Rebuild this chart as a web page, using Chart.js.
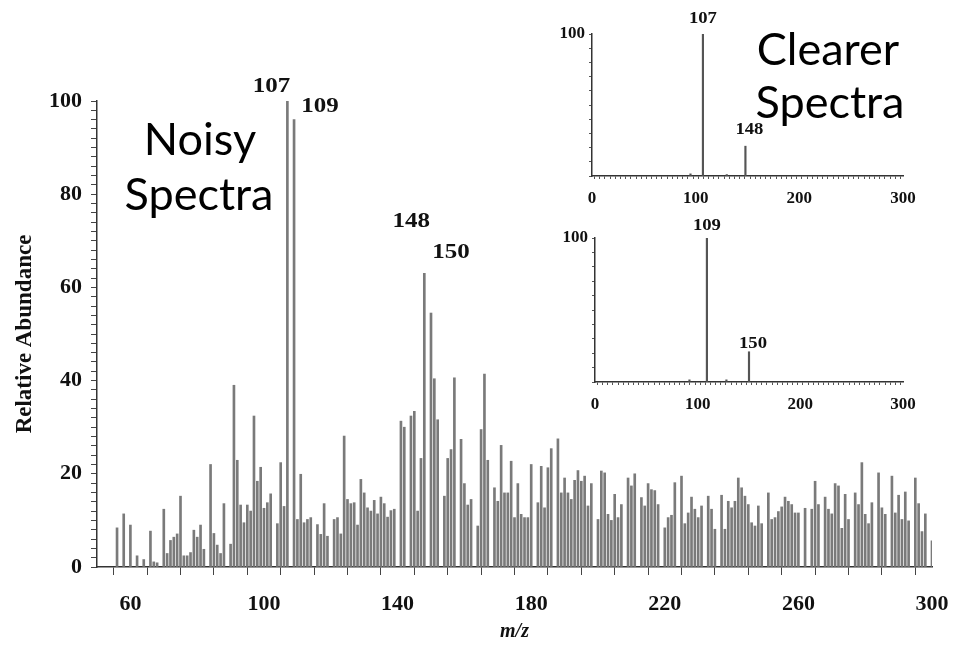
<!DOCTYPE html>
<html><head><meta charset="utf-8">
<script src="https://cdn.jsdelivr.net/npm/chart.js@4"></script>
<style>
html,body{margin:0;padding:0;background:#fff;width:956px;height:650px;overflow:hidden}
canvas{position:absolute}
#main{left:0;top:0}
#in1{left:540px;top:0}
#in2{left:540px;top:215px}
</style></head><body>
<canvas id="main" width="956" height="650"></canvas>
<canvas id="in1" width="400" height="215"></canvas>
<canvas id="in2" width="400" height="215"></canvas>
<script>
// ---- Noisy spectrum (main chart) ----
const mzValues = [56,58,60,62,64,66,67,68,70,71,72,73,74,75,76,77,78,79,80,81,82,84,85,86,87,88,90,91,92,93,94,95,96,97,98,99,100,101,102,104,105,106,107,109,110,111,112,113,114,116,117,118,119,121,122,123,124,125,126,127,128,129,130,131,132,133,134,135,136,137,138,139,141,142,144,145,146,147,148,150,151,152,154,155,156,157,159,160,161,162,164,165,166,167,169,170,171,172,173,174,175,176,177,178,179,180,182,183,184,185,186,188,189,190,191,192,193,194,195,196,197,198,200,201,202,203,204,205,206,207,209,210,211,213,214,215,216,217,218,220,221,222,223,225,226,227,228,229,230,231,233,234,235,237,238,239,240,241,242,243,244,245,246,247,248,249,251,252,253,254,255,256,257,258,259,260,262,264,265,266,268,269,270,271,272,273,274,275,277,278,279,280,281,282,284,285,286,288,289,290,291,292,293,295,296,297,298,300];
const abundance = [8.4,11.4,9,2.4,1.6,7.7,1.1,0.9,12.4,2.9,5.7,6.4,7.1,15.2,2.4,2.4,3.1,7.9,6.4,9,3.8,22,7.2,4.7,2.9,13.6,4.9,39,22.9,13.3,9.5,13.3,12,32.4,18.4,21.4,12.6,13.8,15.7,9.3,22.4,13,100,96,10.2,19.9,9.5,10.2,10.6,9.1,7,13.6,6.6,10.2,10.6,7.1,28.1,14.5,13.6,13.8,9,18.8,15.9,12.7,12,14.3,11.4,15,13.6,10.7,12.1,12.4,31.3,30,32.4,33.4,12,23.3,63,54.5,40.4,31.6,15.2,23.3,25.2,40.6,27.4,17.9,13.3,14.5,8.8,29.5,41.4,22.9,17,14.1,26.1,15.9,15.9,22.7,10.6,17.9,11.3,10.6,10.6,22,13.8,21.6,12.7,21.3,25.4,27.5,15.9,19.1,15.9,14.5,18.6,20.7,18.4,19.5,13.1,17.9,10.2,20.6,20.2,11.3,10,15.6,10.6,13.4,19.1,17.4,20,14.9,13.1,17.9,16.6,16.4,13.4,8.4,10.6,11.1,18.1,19.5,9.3,11.6,15,12.4,10.6,13.1,15.2,12.4,8.1,15.4,8.1,14.1,12.7,14.1,19.1,17,15.2,13.4,9.5,8.8,13.1,9.3,15.9,10.2,10.6,11.9,12.9,15,14.1,13.4,11.6,11.6,12.6,12.4,18.4,13.4,15,12.4,11.4,17.9,17.4,8.3,15.6,10.2,15.9,13.4,22.4,11.3,9.3,13.8,20.2,12.7,11.3,19.5,11.6,15.4,10.2,16.1,9.9,19.1,13.6,7.6,11.4,5.6];
const mainXTickLabels = ['60','100','140','180','220','260','300'];
const mainYTickLabels = ['0','20','40','60','80','100'];
const mainPeakLabels = ['107','109','148','150'];

// ---- Clearer spectra (insets) ----
const inset1Mz = [95, 107, 130, 148];
const inset1Abundance = [1.5, 100, 1, 21];
const inset1PeakLabels = ['107','148'];
const inset2Mz = [92, 109, 128, 150];
const inset2Abundance = [1.5, 100, 1.5, 21];
const inset2PeakLabels = ['109','150'];
const insetXTickLabels = ['0','100','200','300'];
const insetYTickLabels = ['100'];

const SERIF = "'Liberation Serif', 'Times New Roman', serif";
const INK = '#111';

const peakLabelPlugin = {
  id: 'peakLabels',
  afterDatasetsDraw(chart, args, opts) {
    const ctx = chart.ctx, xs = chart.scales.x, ys = chart.scales.y;
    const ds = chart.data.datasets[0].data;
    ctx.save();
    ctx.fillStyle = INK;
    ctx.font = 'bold ' + opts.size + 'px ' + SERIF;
    ctx.textAlign = 'center';
    ctx.textBaseline = 'middle';
    opts.labels.forEach((t, i) => {
      const pt = ds.find(p => p.x === Number(t));
      if (!pt) return;
      const off = opts.offsets[i];
      const x = xs.getPixelForValue(pt.x) + off[0];
      const y = ys.getPixelForValue(pt.y) + off[1];
      ctx.save();
      ctx.translate(x, y);
      ctx.scale(opts.stretch, 1);
      ctx.fillText(t, 0, 0);
      ctx.restore();
    });
    ctx.restore();
  }
};

const captionPlugin = {
  id: 'captions',
  afterDraw(chart, args, opts) {
    if (!opts.items) return;
    const ctx = chart.ctx;
    ctx.save();
    ctx.fillStyle = '#000';
    ctx.font = opts.font;
    ctx.textAlign = 'center';
    ctx.textBaseline = 'alphabetic';
    opts.items.forEach(it => ctx.fillText(it.text, it.x, it.y));
    ctx.restore();
  }
};

function toPoints(xs, ys) { return xs.map((m, i) => ({x: m, y: ys[i]})); }

new Chart(document.getElementById('main'), {
  type: 'bar',
  data: { datasets: [{
    data: toPoints(mzValues, abundance),
    backgroundColor: '#7a7a7a',
    barThickness: 2,
    grouped: false
  }]},
  plugins: [peakLabelPlugin, captionPlugin],
  options: {
    responsive: false, animation: false, devicePixelRatio: 1,
    layout: { padding: { left: 0, top: 101, right: 24, bottom: 0 } },
    plugins: {
      legend: { display: false }, tooltip: { enabled: false },
      peakLabels: { labels: mainPeakLabels, size: 20, stretch: 1.25,
        offsets: [[-16, -14], [26, -13], [-13, -52], [20, -60]] },
      captions: { font: "45px Lato, 'Open Sans', sans-serif", items: [
        {text: 'Noisy', x: 200, y: 155}, {text: 'Spectra', x: 199, y: 210},
        {text: 'Clearer', x: 828, y: 65}, {text: 'Spectra', x: 830, y: 118}
      ]}
    },
    scales: {
      x: {
        type: 'linear', min: 50, max: 300, offset: false,
        grid: { drawOnChartArea: false, tickLength: 8, color: '#444' },
        border: { color: '#333', width: 1.5 },
        ticks: { stepSize: 10, autoSkip: false, maxRotation: 0, padding: 16, color: INK,
          font: { family: SERIF, weight: 'bold', size: 22 },
          callback: v => mainXTickLabels.includes(String(v)) ? String(v) : '' },
        title: { display: true, text: 'm/z', color: INK,
          font: { family: SERIF, style: 'italic', weight: 'bold', size: 20 },
          padding: { top: 0, bottom: 6 } },
        afterFit: s => { s.height = 83; s.paddingRight = 0; s.paddingLeft = 0; }
      },
      y: {
        min: 0, max: 100,
        grid: { drawOnChartArea: false, tickLength: 6, color: '#444' },
        border: { color: '#333', width: 1.5 },
        ticks: { stepSize: 2, autoSkip: false, padding: 9, color: INK,
          font: { family: SERIF, weight: 'bold', size: 22 },
          callback: v => mainYTickLabels.includes(String(v)) ? String(v) : '' },
        title: { display: true, text: 'Relative Abundance', color: INK,
          font: { family: SERIF, weight: 'bold', size: 23 },
          padding: { top: 11, bottom: 0 } },
        afterFit: s => { s.width = 97; s.paddingTop = 0; s.paddingBottom = 0; }
      }
    }
  }
});

function makeInset(id, mz, ab, labels, area, offsets) {
  return new Chart(document.getElementById(id), {
    type: 'bar',
    data: { datasets: [{ data: toPoints(mz, ab), backgroundColor: '#555', barThickness: 1.5, grouped: false }]},
    plugins: [peakLabelPlugin],
    options: {
      responsive: false, animation: false, devicePixelRatio: 1,
      layout: { padding: { left: 0, top: area.top, right: 400 - area.right, bottom: 0 } },
      plugins: {
        legend: { display: false }, tooltip: { enabled: false },
        peakLabels: { labels: labels, size: 17, stretch: 1.1, offsets: offsets }
      },
      scales: {
        x: {
          type: 'linear', min: 0, max: 300, offset: false,
          grid: { drawOnChartArea: false, tickLength: 3, color: '#555' },
          border: { color: '#333', width: 1.5 },
          ticks: { stepSize: 5, autoSkip: false, maxRotation: 0, padding: 9, color: INK,
            font: { family: SERIF, weight: 'bold', size: 17 },
            callback: v => insetXTickLabels.includes(String(v)) ? String(v) : '' },
          afterFit: s => { s.height = 215 - area.bottom; s.paddingRight = 0; s.paddingLeft = 0; }
        },
        y: {
          min: 0, max: 100,
          grid: { drawOnChartArea: false, tickLength: 3, color: '#555' },
          border: { color: '#333', width: 1.5 },
          ticks: { stepSize: 10, autoSkip: false, padding: 4, color: INK,
            font: { family: SERIF, weight: 'bold', size: 17 },
            callback: v => insetYTickLabels.includes(String(v)) ? String(v) : '' },
          afterFit: s => { s.width = area.left; s.paddingTop = 0; s.paddingBottom = 0; }
        }
      }
    }
  });
}

makeInset('in1', inset1Mz, inset1Abundance, inset1PeakLabels,
  { left: 52, right: 363, top: 34, bottom: 176 }, [[0, -15], [4, -17]]);
makeInset('in2', inset2Mz, inset2Abundance, inset2PeakLabels,
  { left: 55, right: 363, top: 23, bottom: 167 }, [[0, -12], [4, -8]]);
</script>
</body></html>
